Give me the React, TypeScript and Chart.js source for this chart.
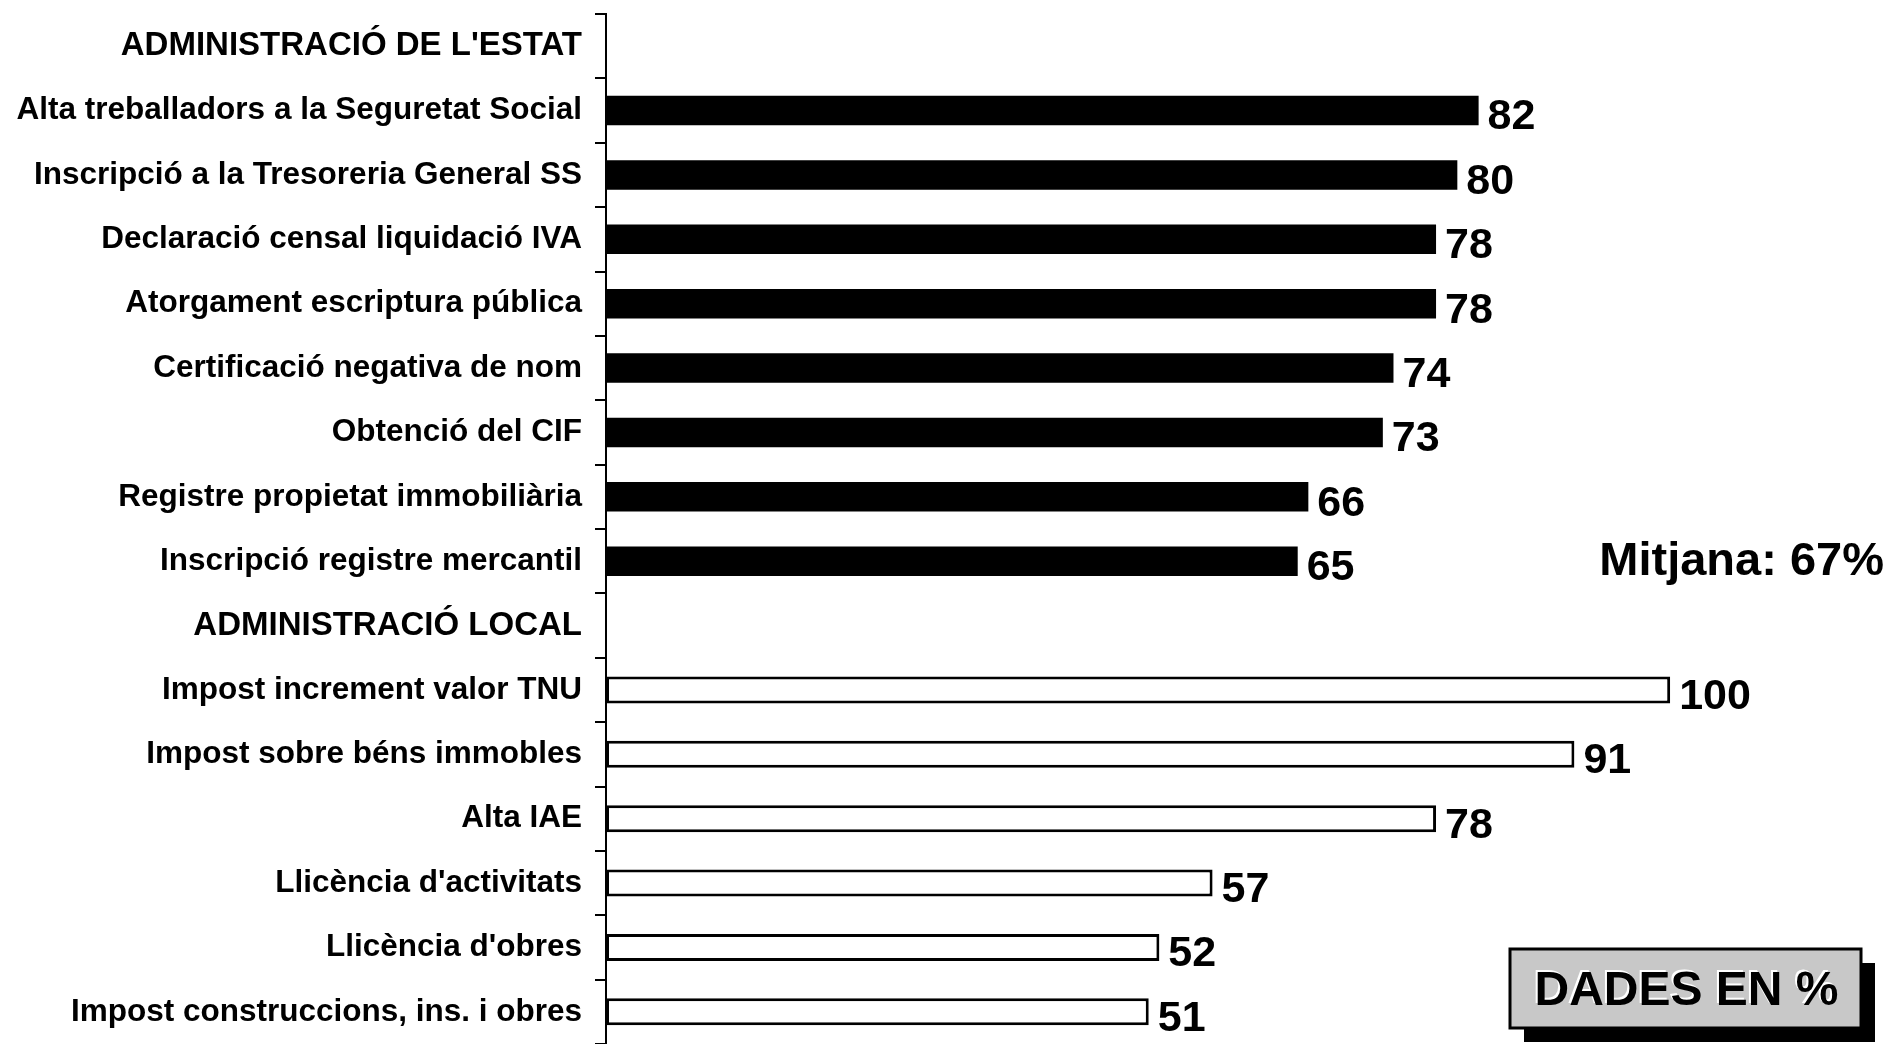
import React, { useEffect, useRef } from "react";
import { Chart, registerables } from "chart.js";

Chart.register(...registerables);

const categories: string[] = [
  "ADMINISTRACIÓ DE L'ESTAT",
  "Alta treballadors a la Seguretat Social",
  "Inscripció a la Tresoreria General SS",
  "Declaració censal liquidació IVA",
  "Atorgament escriptura pública",
  "Certificació negativa de nom",
  "Obtenció del CIF",
  "Registre propietat immobiliària",
  "Inscripció registre mercantil",
  "ADMINISTRACIÓ LOCAL",
  "Impost increment valor TNU",
  "Impost sobre béns immobles",
  "Alta IAE",
  "Llicència d'activitats",
  "Llicència d'obres",
  "Impost construccions, ins. i obres",
];

const headerIndexes: number[] = [0, 9];

const estatValues: (number | null)[] = [null, 82, 80, 78, 78, 74, 73, 66, 65, null, null, null, null, null, null, null];
const localValues: (number | null)[] = [null, null, null, null, null, null, null, null, null, null, 100, 91, 78, 57, 52, 51];

const averageText = "Mitjana: 67%";
const unitText = "DADES EN %";

const FONT = "'Liberation Sans', Arial, Helvetica, sans-serif";

const overlayPlugin = {
  id: "overlay",
  afterDatasetsDraw(chart: any) {
    const ctx = chart.ctx as CanvasRenderingContext2D;
    ctx.save();
    ctx.fillStyle = "#000";
    ctx.font = `bold 43px ${FONT}`;
    ctx.textBaseline = "middle";
    ctx.textAlign = "left";
    chart.data.datasets.forEach((ds: any, di: number) => {
      const meta = chart.getDatasetMeta(di);
      meta.data.forEach((el: any, i: number) => {
        const v = ds.data[i];
        if (v === null || v === undefined) return;
        ctx.fillText(String(v), el.x + 9, el.y + 7);
      });
    });

    // Average
    ctx.font = `bold 47px ${FONT}`;
    ctx.textAlign = "right";
    ctx.fillText(averageText, 1884, 562);

    // Unit box
    const bx = 1510, by = 949, bw = 351, bh = 79;
    ctx.fillStyle = "#000";
    ctx.fillRect(bx + 14, by + 14, bw, bh);
    ctx.fillStyle = "#c8c8c8";
    ctx.fillRect(bx, by, bw, bh);
    ctx.strokeStyle = "#000";
    ctx.lineWidth = 3;
    ctx.strokeRect(bx, by, bw, bh);
    ctx.font = `bold 48px ${FONT}`;
    ctx.textAlign = "center";
    ctx.fillStyle = "#fff";
    ctx.fillText(unitText, bx + bw / 2 - 1, by + bh / 2 + 1);
    ctx.fillStyle = "#000";
    ctx.fillText(unitText, bx + bw / 2 + 1, by + bh / 2 + 3);
    ctx.restore();
  },
};

export default function App() {
  const ref = useRef<HTMLCanvasElement | null>(null);
  useEffect(() => {
    if (!ref.current) return;
    const chart = new Chart(ref.current, {
      type: "bar",
      data: {
        labels: categories,
        datasets: [
          {
            data: estatValues,
            backgroundColor: "#000",
            borderColor: "#000",
            borderWidth: 0,
            barPercentage: 0.46,
            categoryPercentage: 1,
            grouped: false,
          } as any,
          {
            data: localValues,
            backgroundColor: "#fff",
            borderColor: "#000",
            borderWidth: 3,
            borderSkipped: false,
            barPercentage: 0.42,
            categoryPercentage: 1,
            grouped: false,
          } as any,
        ],
      },
      options: {
        indexAxis: "y",
        animation: false,
        responsive: false,
        maintainAspectRatio: false,
        layout: { padding: { top: 14, right: 8, bottom: 0, left: 0 } },
        plugins: {
          legend: { display: false },
          tooltip: { enabled: false },
        },
        scales: {
          x: {
            display: false,
            min: 0,
            max: 120,
          },
          y: {
            afterFit: (scale: any) => {
              scale.width = 606;
              scale.paddingTop = 0;
              scale.paddingBottom = 0;
            },
            grid: {
              offset: true,
              drawOnChartArea: false,
              drawTicks: true,
              tickLength: 11,
              color: "#000",
              lineWidth: 2,
            },
            border: { display: true, color: "#000", width: 2 },
            ticks: {
              color: "#000",
              padding: 13,
              autoSkip: false,
              font: (c: any) => ({
                family: FONT,
                size: headerIndexes.includes(c.index) ? 33 : 31.5,
                weight: "bold",
              }),
            },
          },
        },
      },
      plugins: [overlayPlugin],
    } as any);
    return () => chart.destroy();
  }, []);
  return (
    <div style={{ position: "fixed", left: 0, top: 0, width: 1891, height: 1044, background: "#fff" }}>
      <canvas ref={ref} width={1891} height={1044} style={{ width: 1891, height: 1044, display: "block" }} />
    </div>
  );
}
